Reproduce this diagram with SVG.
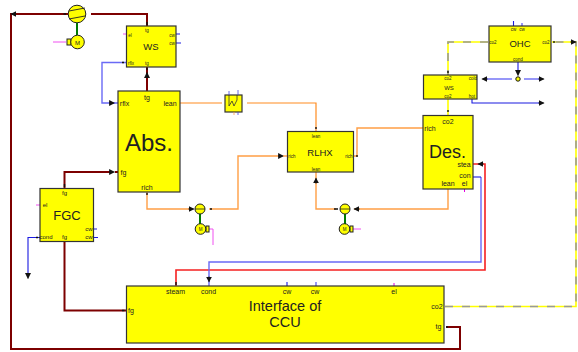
<svg xmlns="http://www.w3.org/2000/svg" width="578" height="352" viewBox="0 0 578 352">
<defs>
<marker id="ah" viewBox="0 0 10 10" refX="9" refY="5" markerWidth="6" markerHeight="6" markerUnits="userSpaceOnUse" orient="auto"><path d="M0,0L10,5L0,10Z" fill="#111"/></marker>
</defs>
<style>
text{font-family:"Liberation Sans",Arial,sans-serif;fill:#222;text-anchor:middle}
.box{fill:#ffff00;stroke:#333;stroke-width:1.2}
.t3{font-size:4.5px}.t5{font-size:6px}.t6{font-size:7px}.t7{font-size:7px}
.title{font-size:9.500px}
.fg{fill:none;stroke:#7d0000;stroke-width:2}
.or{fill:none;stroke:#ff9f45;stroke-width:1.4}
.ol{fill:none;stroke:#ff8c20;stroke-width:1.2}
.bl{fill:none;stroke:#6a6af5;stroke-width:1.4}
.bd{fill:none;stroke:#1a1ae0;stroke-width:1.1}
.rd{fill:none;stroke:#f52020;stroke-width:1.6}
.mg{fill:none;stroke:#f050f0;stroke-width:1}
.gn{fill:none;stroke:#007a00;stroke-width:2}
.co{fill:none;stroke:#ffff00;stroke-width:1.6}
.cd{fill:none;stroke:#999;stroke-width:1.6;stroke-dasharray:8 9}
.ar{fill:none;stroke:#111;stroke-width:0.5;marker-end:url(#ah)}
.st{fill:none;stroke:#111;stroke-width:1.4}
.pump{fill:#ffff00;stroke:#222;stroke-width:1}
</style>
<g id="connectors">
<path class="fg" d="M147,26V14H91"/>
<path class="fg" d="M68,14H11V349H460V327H446"/>
<path class="ar" d="M16,14H11"/>
<path class="fg" d="M147,67V77"/>
<path class="fg" d="M147,91V78"/>
<path class="ar" d="M147,78V72.500"/>
<path class="gn" d="M77,23V35"/>
<path class="mg" d="M53,42H66"/>
<path class="mg" d="M123,34H127"/>
<path class="bl" d="M126,62.500H102V103H114"/>
<path class="ar" d="M109,103H114.500"/>
<path class="bd" d="M114,103H118M176,34H180M176,43H181"/>
<path class="ol" d="M180,103H222"/>
<path class="ol" d="M247,103H316V131"/>
<path class="or" d="M147,192V209H191"/>
<path class="ar" d="M188,209H194"/>
<path class="or" d="M209,209H238V156H280"/>
<path class="ar" d="M278,156H283.500"/>
<path class="or" d="M283,156H287"/>
<path class="or" d="M354,156H357V128H423"/>
<path class="or" d="M316,172V209H336"/>
<path class="ar" d="M316,184V178"/>
<path class="or" d="M448,189V209H354"/>
<path class="ar" d="M360,209H354"/>
<path class="gn" d="M200,214V224"/>
<path class="gn" d="M345,214V224"/>
<path class="mg" d="M208,229H213V245"/>
<path class="mg" d="M353,229H361"/>
<path class="fg" d="M64.500,188V172H112"/>
<path class="ar" d="M109,172H114.500"/>
<path class="fg" d="M115,172H118"/>
<path class="fg" d="M64.500,242V310.500H126"/>
<path class="bd" d="M40,237.500H28V273"/>
<path class="ar" d="M28,273V278.500"/>
<path class="bd" d="M93,229H97M93,237.500H98"/>
<path class="mg" d="M36,205H40"/>
<path class="rd" d="M176,286V270H485V164H473"/>
<path class="ar" d="M484,164H478"/>
<path class="bl" d="M209,286V262H481V177"/>
<path class="bd" d="M481,177H473"/>
<path class="ar" d="M209,276V282"/>
<path class="bd" d="M287,282V286"/>
<path class="bl" d="M316,282V286"/>
<path stroke="#e000e0" stroke-width="1" d="M394,283V286M464.500,189V192" fill="none"/>
<path class="co" d="M445,306.500H576V42H552"/>
<path class="cd" d="M445,306.500H576V42H552"/>
<path class="ar" d="M570,42H576"/>
<path class="co" d="M488,42H448V75"/>
<path class="cd" d="M488,42H448V75"/>
<path class="co" d="M448,99V115"/>
<path class="bd" d="M518,62V74"/>
<path class="ar" d="M518,70V75.500"/>
<path class="bl" d="M512,79H484"/>
<path class="ar" d="M488,79H482"/>
<path class="bl" d="M524,79H539"/>
<path class="ar" d="M538,79H544"/>
<path class="bd" d="M472,99V103H539"/>
<path class="ar" d="M538,103H544"/>
<path class="bd" d="M513.500,21V26"/>
<path class="bl" d="M522,23V26"/>
<path class="st" d="M147,22V25M147,68V70M122,62.500H124M63.500,14H66M147,193V195M210,209H212M316,127V129M357,155V157M448,71V73M448,110V112M554,41V43M64.500,184V187M36,237.500H38M122,310.500H124.500M176,282V285M446,327H448M334,209H338M64.500,240V242"/>
</g>
<g id="fan">
<circle cx="77" cy="14" r="8.800" class="pump"/>
<path d="M69,11L85,8M69,19L85,16" stroke="#222" stroke-width="0.9" fill="none"/>
</g>
<g id="fan-motor">
<rect x="67" y="39" width="4" height="6" class="pump"/>
<circle cx="77.500" cy="42" r="6.800" class="pump"/>
<text x="77.500" y="44.500" class="t5">M</text>
</g>
<g id="ws-top">
<rect x="126.500" y="26" width="49.500" height="41" class="box"/>
<text x="147" y="32" class="t3">tg</text>
<text x="130" y="37" class="t3">el</text>
<text x="172" y="37" class="t3">cw</text>
<text x="172" y="45" class="t3">cw</text>
<text x="151" y="50" class="title">WS</text>
<text x="131" y="64.500" class="t3">rflx</text>
<text x="147" y="64.500" class="t3">tg</text>
</g>
<g id="abs">
<rect x="118" y="91" width="62" height="101" class="box"/>
<text x="147" y="100" class="t7">tg</text>
<text x="124.500" y="106" class="t7">rflx</text>
<text x="170" y="106" class="t7">lean</text>
<text x="149" y="151" style="font-size:24px">Abs.</text>
<text x="123.500" y="175" class="t7">fg</text>
<text x="147" y="190" class="t7">rich</text>
</g>
<g id="hx">
<rect x="225" y="95" width="17" height="17" class="box"/>
<path d="M229,95V106L232,101L234,106L237,100V95" fill="none" stroke="#333" stroke-width="0.8"/>
<path d="M229,91V95M238,90V95M238,112V115" stroke="#4444dd" stroke-width="0.8" fill="none"/>
<path d="M234,112V115" stroke="#ff9f45" stroke-width="0.8" fill="none"/>
</g>
<g id="rlhx">
<rect x="287.500" y="131.500" width="66" height="40.500" class="box"/>
<text x="316" y="138" class="t3">lean</text>
<text x="292" y="158" class="t3">rich</text>
<text x="349" y="158" class="t3">rich</text>
<text x="320" y="156" class="title">RLHX</text>
<text x="316" y="171" class="t3">lean</text>
</g>
<g id="des">
<rect x="423" y="115.500" width="50" height="73.500" class="box"/>
<text x="448" y="124" class="t7">co2</text>
<text x="430" y="131" class="t7">rich</text>
<text x="447.500" y="158" style="font-size:18px">Des.</text>
<text x="464" y="166.500" class="t7">stea</text>
<text x="465" y="178" class="t7">con</text>
<text x="448" y="186" class="t7">lean</text>
<text x="464.500" y="186" class="t7">el</text>
</g>
<g id="ws-small">
<rect x="423.500" y="75" width="53.500" height="24" class="box"/>
<text x="448" y="79.500" class="t3">co2</text>
<text x="473" y="79.500" class="t3">cold</text>
<text x="449" y="89.500" class="t5">WS</text>
<text x="448" y="98" class="t3">co2</text>
<text x="472" y="98" class="t3">hot</text>
</g>
<g id="ohc">
<rect x="489" y="26" width="62" height="36" class="box"/>
<text x="513.500" y="31" class="t3">cw</text>
<text x="522" y="31" class="t3">cw</text>
<text x="493" y="44" class="t3">co2</text>
<text x="546" y="44" class="t3">co2</text>
<text x="520" y="47" class="title">OHC</text>
<text x="518" y="61" class="t3">cond</text>
</g>
<g id="junction">
<circle cx="518" cy="79" r="2.200" fill="#ffff00" stroke="#111" stroke-width="1"/>
</g>
<g id="pump-rich">
<circle cx="200" cy="209" r="5" class="pump"/>
<path d="M195,209H205" stroke="#222" stroke-width="0.8"/>
<rect x="206" y="226" width="3" height="6" class="pump"/>
<circle cx="200.500" cy="229" r="5.300" class="pump"/>
<text x="200.500" y="231" class="t3">M</text>
</g>
<g id="pump-lean">
<circle cx="345" cy="209" r="5" class="pump"/>
<path d="M340,209H350" stroke="#222" stroke-width="0.8"/>
<rect x="350" y="226" width="3" height="6" class="pump"/>
<circle cx="344.500" cy="229" r="5.300" class="pump"/>
<text x="344.500" y="231" class="t3">M</text>
</g>
<g id="fgc">
<rect x="40" y="188.500" width="53.500" height="53" class="box"/>
<text x="64.500" y="195" class="t5">fg</text>
<text x="45" y="207" class="t5">el</text>
<text x="67" y="220" style="font-size:13px">FGC</text>
<text x="89" y="231" class="t5">cw</text>
<text x="89" y="239" class="t5">cw</text>
<text x="46" y="239" class="t5">cond</text>
<text x="64.500" y="239" class="t5">fg</text>
</g>
<g id="ccu">
<rect x="126.500" y="286" width="317.500" height="57" class="box"/>
<text x="175.500" y="294" class="t6">steam</text>
<text x="208.500" y="294" class="t6">cond</text>
<text x="287" y="294" class="t6">cw</text>
<text x="315" y="294" class="t6">cw</text>
<text x="394" y="294" class="t6">el</text>
<text x="131" y="313" class="t6">fg</text>
<text x="437" y="309" class="t6">co2</text>
<text x="438.500" y="329" class="t6">tg</text>
<text x="285" y="311" style="font-size:14.500px">Interface of</text>
<text x="285" y="327" style="font-size:14.500px">CCU</text>
</g>
</svg>
